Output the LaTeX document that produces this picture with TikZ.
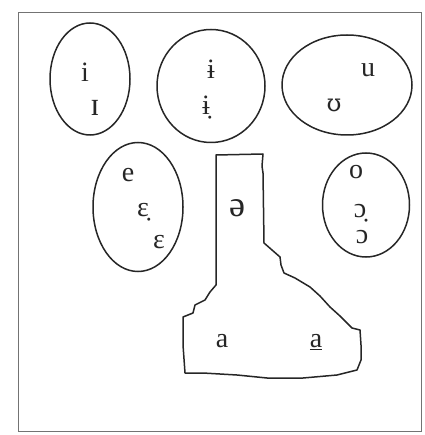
\documentclass[tikz,border=0pt]{standalone}
\usepackage{fontspec}
\setmainfont{Liberation Serif}
\newfontfamily\ipaalt{DejaVu Serif}
\usepackage{tikz}
\usetikzlibrary{shapes.geometric}

\tikzset{
	zone/.style={draw=black!85, line width=1.5pt, ellipse, inner sep=0pt},
	vw/.style={font=\fontsize{28}{30}\selectfont, inner sep=0pt, text=black!85},
}

\begin{document}
\begin{tikzpicture}[x=1pt,y=-1pt]
				\useasboundingbox (0,0) rectangle (424,435);
				\draw[black!55, line width=1pt] (18,13) rectangle (421,431);
				% front, central and back areas
				\node[zone, minimum width=80pt, minimum height=112pt] (Fhi) at (90,79) {};
				\node[zone, minimum width=108pt, minimum height=113pt] (Chi) at (211,86) {};
				\node[zone, minimum width=130pt, minimum height=100pt] (Bhi) at (347,85) {};
				\node[zone, minimum width=90pt, minimum height=129pt] (Fmid) at (138,207) {};
				\node[zone, minimum width=87pt, minimum height=104pt] (Bmid) at (366,205) {};
				% central and low area
				\draw[black!85, line width=1.5pt, line join=round]
					(216,155) -- (263,154) -- (262,166) -- (263,173) -- (264,243)
					-- (272,250) -- (280,257) -- (281,265) -- (284,273) -- (295,278)
					-- (310,287) -- (320,296) -- (330,307) -- (340,316) -- (347,323)
					-- (352,328) -- (360,330) -- (361,345) -- (361,360) -- (357,370)
					-- (337,375) -- (303,378) -- (267,378) -- (237,375) -- (203,373)
					-- (185,373) -- (183,345) -- (183,317) -- (193,313) -- (195,305)
					-- (205,300) -- (210,292) -- (216,285) -- cycle;
				% vowels
				\node[vw] (i) at (85,72) {i};
				\node[vw, font=\fontsize{33}{34}\selectfont] (I) at (95,108) {ɪ};
				\node[vw] (ibar) at (211,69) {ɨ};
				\node[vw] (ibard) at (206,108) {ɨ̣};
				\node[vw] (u) at (368,70) {u};
				\node[vw, font=\fontsize{24}{30}\ipaalt] (U) at (334,105) {ʊ};
				\node[vw] (e) at (128,175) {e};
				\node[vw] (Ed) at (143,212) {ɛ̣};
				\node[vw] (E) at (159,242) {ɛ};
				\node[vw] (o) at (356,172) {o};
				\node[vw] (Od) at (360,213) {ɔ̣};
				\node[vw] (O) at (362,237) {ɔ};
				\node[vw, font=\fontsize{36}{38}\selectfont] (schwa) at (237,208) {ə};
				\node[vw] (a) at (222,341) {a};
				\node[vw] (ab) at (316,342) {\underline{a}};
			\end{tikzpicture}
\end{document}
